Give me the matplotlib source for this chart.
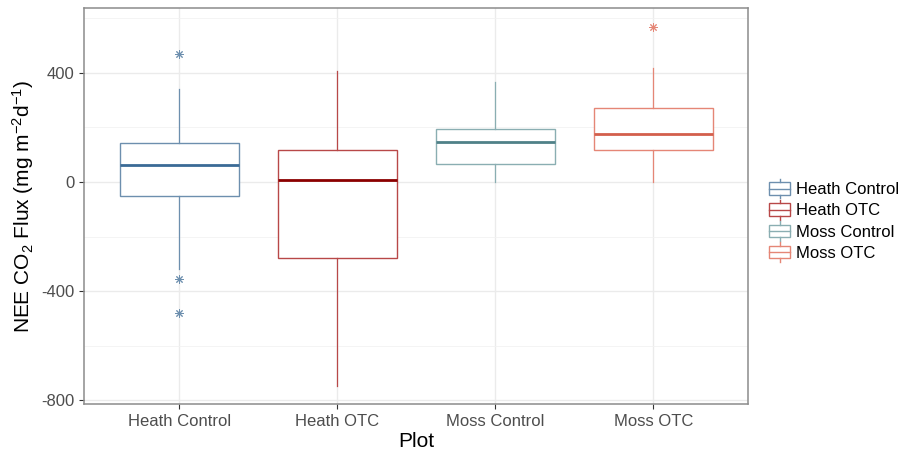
import matplotlib.pyplot as plt
import matplotlib.patches as mpatches
from matplotlib.legend_handler import HandlerBase
from matplotlib.lines import Line2D

plt.rcParams['font.family'] = ['Liberation Sans', 'DejaVu Sans']
plt.rcParams['mathtext.fontset'] = 'custom'
plt.rcParams['mathtext.rm'] = 'Liberation Sans'
plt.rcParams['mathtext.it'] = 'Liberation Sans'
plt.rcParams['axes.unicode_minus'] = False

# NEE CO2 flux summary per plot type (mg m-2 d-1)
plots = ['Heath Control', 'Heath OTC', 'Moss Control', 'Moss OTC']
whisker_low = [-320, -747, 1, 1]
q1 = [-50, -279, 67, 116]
median = [63, 7, 146, 176]
q3 = [142, 117, 195, 270]
whisker_high = [341, 405, 366, 416]
outliers = [[470, -356, -481], [], [], [568]]

line_colors = ['#3a6a96', '#8b0000', '#4f8188', '#d35f4c']
edge_colors = ['#6d8fae', '#b84848', '#8aaeb2', '#e58676']

stats = []
for i, name in enumerate(plots):
    stats.append({'label': name, 'whislo': whisker_low[i], 'q1': q1[i],
                  'med': median[i], 'q3': q3[i], 'whishi': whisker_high[i],
                  'fliers': outliers[i]})

fig = plt.figure(figsize=(8.98, 4.5), dpi=100)
ax = fig.add_axes([0.094, 0.1016, 0.7393, 0.88])

for i, s in enumerate(stats):
    ax.bxp([s], positions=[i + 1], widths=0.75, showcaps=False,
           patch_artist=True, zorder=3,
           boxprops=dict(facecolor='white', edgecolor=edge_colors[i], linewidth=1.0),
           medianprops=dict(color=line_colors[i], linewidth=2),
           whiskerprops=dict(color=edge_colors[i], linewidth=0.9),
           flierprops=dict(marker=(8, 2, 0), markersize=6, markeredgecolor=edge_colors[i],
                           markeredgewidth=0.7, markerfacecolor='none'))

ax.set_xlim(0.4, 4.6)
ax.set_ylim(-814, 636)
ax.set_yticks([-800, -400, 0, 400])
ax.set_yticks([-600, -200, 200, 600], minor=True)
ax.set_xticks([1, 2, 3, 4])
ax.set_xticklabels(plots)

ax.grid(True, which='major', color='#ebebeb', linewidth=1.0, zorder=0)
ax.grid(True, which='minor', axis='y', color='#f2f2f2', linewidth=0.6, zorder=0)
ax.set_axisbelow(True)
for sp in ax.spines.values():
    sp.set_color('#8c8c8c')
    sp.set_linewidth(1.1)
ax.tick_params(axis='both', which='major', labelsize=12, labelcolor='#4d4d4d',
               color='#333333', length=3.5, width=0.8)
ax.tick_params(axis='both', which='minor', length=0)

ax.set_xlabel('Plot', fontsize=15, labelpad=2)
ax.set_ylabel(r'NEE CO$_2$ Flux (mg m$^{-2}$d$^{-1}$)', fontsize=15, labelpad=4)


class BoxKey(HandlerBase):
    def __init__(self, edge):
        super().__init__()
        self.edge = edge

    def create_artists(self, legend, orig_handle, xdescent, ydescent, width, height,
                       fontsize, trans):
        w = 15
        x0 = (width - w) / 2 - xdescent
        h = height * 0.85
        y0 = (height - h) / 2 - ydescent
        rect = mpatches.Rectangle((x0, y0), w, h, facecolor='white',
                                  edgecolor=self.edge, linewidth=1.0, transform=trans)
        cx = x0 + w / 2
        mid = Line2D([x0, x0 + w], [y0 + h / 2] * 2, color=self.edge, lw=1.0, transform=trans)
        top = Line2D([cx, cx], [y0 + h, y0 + h + 2.5], color=self.edge, lw=1.0, transform=trans)
        bot = Line2D([cx, cx], [y0 - 2.5, y0], color=self.edge, lw=1.0, transform=trans)
        return [rect, mid, top, bot]


handles = [mpatches.Patch(label=p) for p in plots]
handler_map = {h: BoxKey(edge_colors[i]) for i, h in enumerate(handles)}
fig.legend(handles=handles, handler_map=handler_map, loc='center left',
           bbox_to_anchor=(0.857, 0.509), frameon=False, fontsize=12,
           borderpad=0, borderaxespad=0,
           handlelength=1.2, handleheight=1.0, handletextpad=0.4, labelspacing=0.3)

fig.savefig('out.png', dpi=100)
